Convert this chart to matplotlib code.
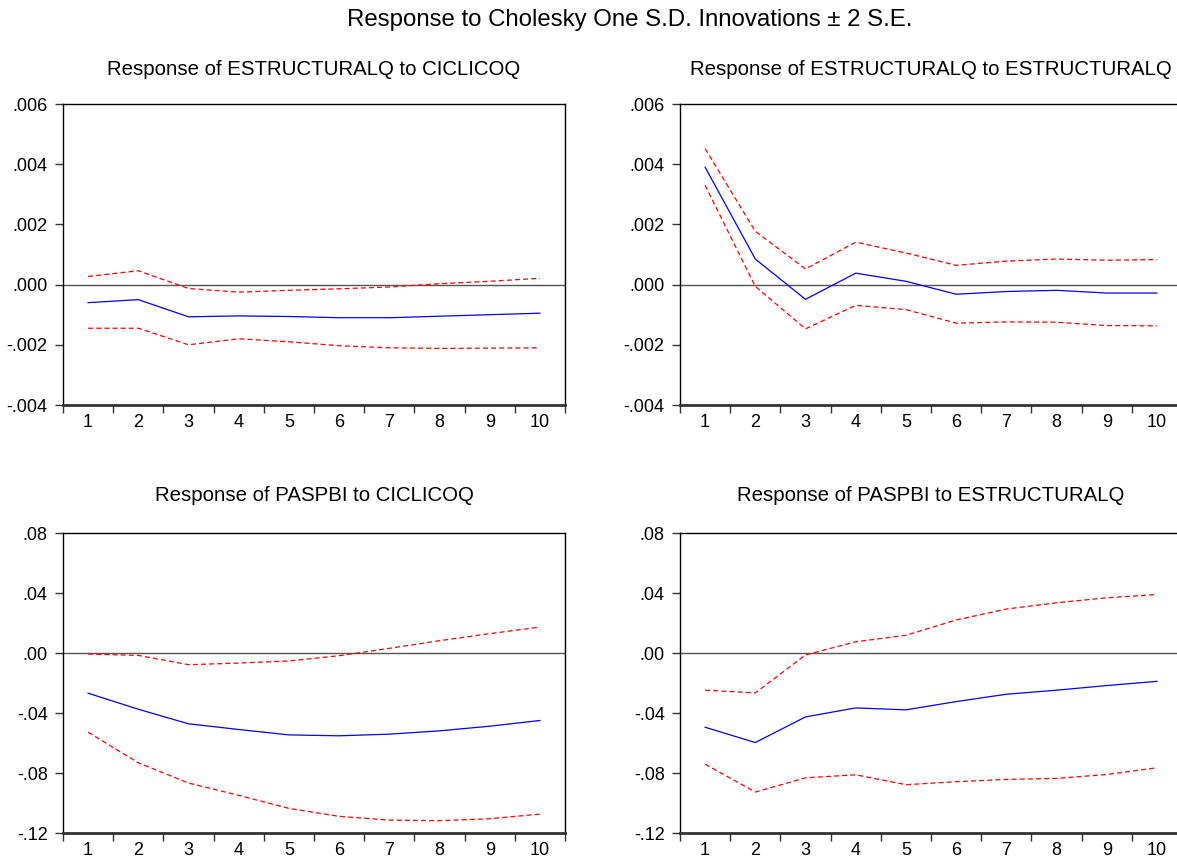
import matplotlib
matplotlib.use("Agg")
import matplotlib.pyplot as plt
import numpy as np

plt.rcParams['font.family'] = ['Liberation Sans', 'DejaVu Sans']

periods = [1, 2, 3, 4, 5, 6, 7, 8, 9, 10]

# Response of ESTRUCTURALQ to CICLICOQ
est_cic = [-0.00060, -0.00050, -0.00107, -0.00104, -0.00106, -0.00110, -0.00110, -0.00105, -0.00100, -0.00095]
est_cic_up = [0.00027, 0.00046, -0.00013, -0.00025, -0.00019, -0.00014, -0.00008, 0.00003, 0.00011, 0.00021]
est_cic_lo = [-0.00145, -0.00145, -0.00200, -0.00180, -0.00190, -0.00203, -0.00210, -0.00212, -0.00211, -0.00210]

# Response of ESTRUCTURALQ to ESTRUCTURALQ
est_est = [0.00390, 0.00085, -0.00049, 0.00038, 0.00011, -0.00032, -0.00023, -0.00019, -0.00028, -0.00028]
est_est_up = [0.00452, 0.00177, 0.00052, 0.00141, 0.00105, 0.00064, 0.00078, 0.00085, 0.00081, 0.00083]
est_est_lo = [0.00330, -0.00006, -0.00147, -0.00069, -0.00083, -0.00128, -0.00124, -0.00125, -0.00136, -0.00137]

# Response of PASPBI to CICLICOQ
pas_cic = [-0.0268, -0.0375, -0.0472, -0.0510, -0.0546, -0.0552, -0.0541, -0.0519, -0.0488, -0.0450]
pas_cic_up = [-0.0007, -0.0016, -0.0078, -0.0067, -0.0053, -0.0018, 0.0031, 0.0082, 0.0129, 0.0173]
pas_cic_lo = [-0.0528, -0.0732, -0.0867, -0.0949, -0.1036, -0.1089, -0.1114, -0.1118, -0.1105, -0.1074]

# Response of PASPBI to ESTRUCTURALQ
pas_est = [-0.0495, -0.0597, -0.0426, -0.0366, -0.0379, -0.0324, -0.0275, -0.0248, -0.0217, -0.0189]
pas_est_up = [-0.0248, -0.0266, -0.0013, 0.0075, 0.0118, 0.0220, 0.0293, 0.0335, 0.0368, 0.0390]
pas_est_lo = [-0.0741, -0.0927, -0.0832, -0.0812, -0.0878, -0.0858, -0.0843, -0.0836, -0.0810, -0.0765]

top_ticks = [-0.004, -0.002, 0.0, 0.002, 0.004, 0.006]
top_labels = ['-.004', '-.002', '.000', '.002', '.004', '.006']
bot_ticks = [-0.12, -0.08, -0.04, 0.0, 0.04, 0.08]
bot_labels = ['-.12', '-.08', '-.04', '.00', '.04', '.08']

main_title = "Response to Cholesky One S.D. Innovations \u00b1 2 S.E."
titles = ["Response of ESTRUCTURALQ to CICLICOQ",
          "Response of ESTRUCTURALQ to ESTRUCTURALQ",
          "Response of PASPBI to CICLICOQ",
          "Response of PASPBI to ESTRUCTURALQ"]

W, H = 1177, 858
fig = plt.figure(figsize=(W / 100, H / 100), dpi=100)

def px_axes(x0, y0, x1, y1):
    return fig.add_axes([x0 / W, 1 - y1 / H, (x1 - x0) / W, (y1 - y0) / H])

panels = [
    (px_axes(63, 104, 565, 405), est_cic, est_cic_up, est_cic_lo, top_ticks, top_labels, titles[0], 21),
    (px_axes(680, 104, 1182, 405), est_est, est_est_up, est_est_lo, top_ticks, top_labels, titles[1], 21),
    (px_axes(63, 533, 565, 833), pas_cic, pas_cic_up, pas_cic_lo, bot_ticks, bot_labels, titles[2], 23),
    (px_axes(680, 533, 1182, 833), pas_est, pas_est_up, pas_est_lo, bot_ticks, bot_labels, titles[3], 23),
]

for ax, mid, up, lo, yt, yl, title, tpad in panels:
    ax.axhline(0, color='#555555', lw=1.0, zorder=1)
    ax.plot(periods, up, color='#ff0000', lw=0.9, ls=(0, (4, 2.5)), zorder=2)
    ax.plot(periods, lo, color='#ff0000', lw=0.9, ls=(0, (4, 2.5)), zorder=2)
    ax.plot(periods, mid, color='#0000ff', lw=0.9, zorder=3)
    ax.set_xlim(0.5, 10.5)
    ax.set_ylim(yt[0], yt[-1])
    ax.set_yticks(yt)
    ax.set_yticklabels(yl)
    ax.set_xticks(np.arange(0.5, 11, 1.0))
    ax.set_xticklabels([])
    ax.set_xticks(periods, minor=True)
    ax.set_xticklabels([str(p) for p in periods], minor=True)
    ax.tick_params(axis='x', which='major', direction='out', length=6, width=1, color='#333333')
    ax.tick_params(axis='x', which='minor', length=0, pad=6.5, labelsize=13)
    ax.tick_params(axis='y', direction='out', length=6, width=1, color='#333333', labelsize=13, pad=5)
    for s in ['left', 'right', 'top']:
        ax.spines[s].set_linewidth(1.0)
        ax.spines[s].set_color('black')
    ax.spines['bottom'].set_linewidth(2.0)
    ax.spines['bottom'].set_color('#333333')
    ax.set_title(title, fontsize=14.7, pad=tpad)

fig.text(630 / W, 1 - 20 / H, main_title, ha='center', va='center', fontsize=17.3)

fig.savefig('out.png', dpi=100)
